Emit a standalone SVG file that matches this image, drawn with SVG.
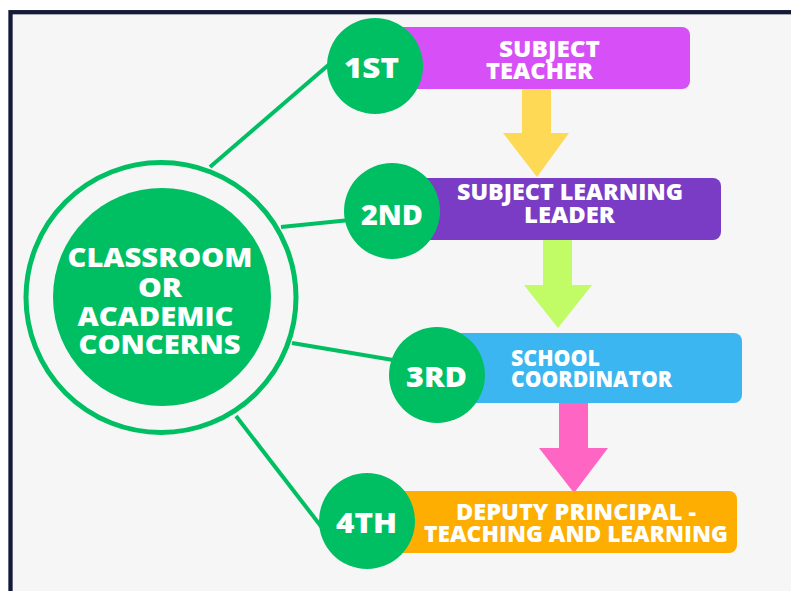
<svg xmlns="http://www.w3.org/2000/svg" width="791" height="591" viewBox="0 0 791 591">
<style>
.t{font-family:"Open Sans","Liberation Sans",sans-serif;font-weight:800;fill:#ffffff;}
.mid{text-anchor:middle;}
.lbl{font-size:29px;}
.ctr{font-size:27px;}
.box{font-size:22px;}
.g{fill:#00bf63;}
.conn{stroke:#00bf63;stroke-width:4;fill:none;}
</style>
<rect x="0" y="0" width="791" height="591" fill="#ffffff"/>
<rect x="10.5" y="12.2" width="800" height="600" fill="#f6f6f6" stroke="#161a38" stroke-width="4.3"/>
<g id="connectors">
<line class="conn" x1="210" y1="167" x2="340" y2="55"/>
<line class="conn" x1="281" y1="227" x2="360" y2="219"/>
<line class="conn" x1="292" y1="343" x2="405" y2="362"/>
<line class="conn" x1="236" y1="416" x2="330" y2="538"/>
<polygon fill="#fdd955" points="522,89 551,89 551,133 569,133 537,177 503,133 522,133"/>
<polygon fill="#c1fb66" points="543,240 572,240 572,285 592,285 558,328 524,285 543,285"/>
<polygon fill="#ff66c4" points="559,403 588,403 588,448 608,448 574,493 539,448 559,448"/>
</g>
<g id="center">
<circle cx="161" cy="297.5" r="135" fill="none" stroke="#00bf63" stroke-width="5"/>
<circle class="g" cx="162" cy="297" r="109"/>
<text class="t ctr mid" x="160" y="267" textLength="185" lengthAdjust="spacingAndGlyphs">CLASSROOM</text>
<text class="t ctr mid" x="160" y="296.5" textLength="44" lengthAdjust="spacingAndGlyphs">OR</text>
<text class="t ctr mid" x="155.5" y="325.5" textLength="156" lengthAdjust="spacingAndGlyphs">ACADEMIC</text>
<text class="t ctr mid" x="159.5" y="354" textLength="162" lengthAdjust="spacingAndGlyphs">CONCERNS</text>
</g>
<g id="step1">
<rect x="375" y="27" width="315" height="62" rx="8" fill="#d74ff6"/>
<circle class="g" cx="375" cy="66" r="48"/>
<text class="t lbl mid" x="371.5" y="78" textLength="55" lengthAdjust="spacingAndGlyphs">1ST</text>
<text class="t box mid" x="549.5" y="57" textLength="101" lengthAdjust="spacingAndGlyphs">SUBJECT</text>
<text class="t box mid" x="539.5" y="79" textLength="107" lengthAdjust="spacingAndGlyphs">TEACHER</text>
</g>
<g id="step2">
<rect x="392" y="178" width="329" height="62" rx="8" fill="#7a3bc5"/>
<circle class="g" cx="392" cy="211" r="48"/>
<text class="t lbl mid" x="392" y="225" textLength="62" lengthAdjust="spacingAndGlyphs">2ND</text>
<text class="t box mid" x="570" y="200" textLength="226" lengthAdjust="spacingAndGlyphs">SUBJECT LEARNING</text>
<text class="t box mid" x="569.5" y="223" textLength="91" lengthAdjust="spacingAndGlyphs">LEADER</text>
</g>
<g id="step3">
<rect x="437" y="333" width="305" height="70" rx="8" fill="#3bb6f0"/>
<circle class="g" cx="437" cy="375" r="48"/>
<text class="t lbl mid" x="436.5" y="387" textLength="61" lengthAdjust="spacingAndGlyphs">3RD</text>
<text class="t box" x="511" y="366" font-size="20.5" textLength="89" lengthAdjust="spacingAndGlyphs">SCHOOL</text>
<text class="t box" x="511" y="387" font-size="20.5" textLength="161" lengthAdjust="spacingAndGlyphs">COORDINATOR</text>
</g>
<g id="step4">
<rect x="367" y="491" width="370" height="62" rx="8" fill="#fdae00"/>
<circle class="g" cx="367" cy="521" r="48"/>
<text class="t lbl mid" x="366.5" y="533" textLength="61" lengthAdjust="spacingAndGlyphs">4TH</text>
<text class="t box mid" x="576" y="520" font-size="20.5" textLength="240" lengthAdjust="spacingAndGlyphs">DEPUTY PRINCIPAL -</text>
<text class="t box mid" x="576" y="542" font-size="20.5" textLength="304" lengthAdjust="spacingAndGlyphs">TEACHING AND LEARNING</text>
</g>
</svg>
